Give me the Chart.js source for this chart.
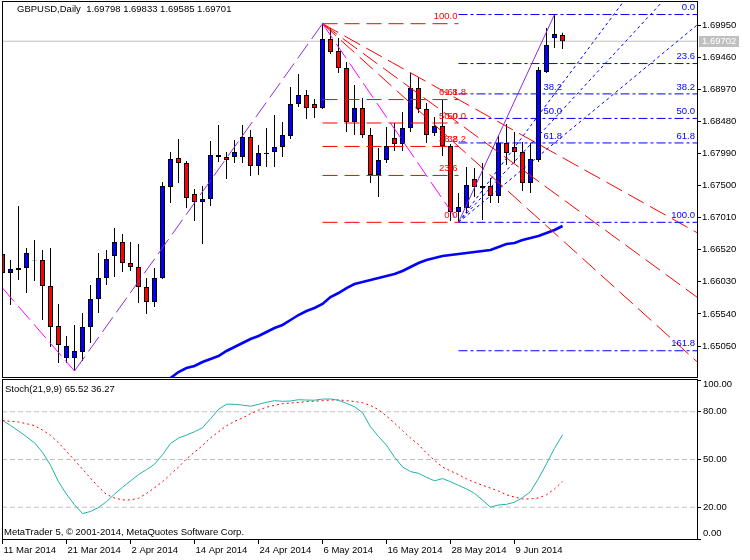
<!DOCTYPE html>
<html>
<head>
<meta charset="utf-8">
<script src="https://cdn.jsdelivr.net/npm/chart.js@4.4.1/dist/chart.umd.min.js"></script>
<style>
  body { margin: 0; background: #fff; }
  #wrap { position: relative; width: 750px; height: 560px; }
  #wrap canvas { position: absolute; left: 0; }
  #priceChart { top: 0; }
  #stochChart { top: 377px; }
</style>
</head>
<body>
<div id="wrap">
  <canvas id="priceChart" width="750" height="379"></canvas>
  <canvas id="stochChart" width="750" height="183"></canvas>
</div>
<script>
// GBPUSD daily bars, 11 Mar 2014 .. 17 Jun 2014
const opens = [1.66454, 1.66164, 1.66241, 1.66241, 1.66347, 1.66363, 1.65966, 1.65355, 1.64867, 1.64867,
  1.64958, 1.6534, 1.65767, 1.66088, 1.66424, 1.66638, 1.66317, 1.66256, 1.65951, 1.65722,
  1.66088, 1.67477, 1.6792, 1.67843, 1.6737, 1.67248, 1.67294, 1.67966, 1.67935, 1.67935,
  1.67935, 1.6824, 1.67798, 1.67996, 1.68011, 1.68088, 1.68256, 1.68744, 1.68881, 1.68744,
  1.68683, 1.69736, 1.69553, 1.69294, 1.68469, 1.68683, 1.68271, 1.6766, 1.67889, 1.68225,
  1.68133, 1.68378, 1.68988, 1.68668, 1.68301, 1.68408, 1.68103, 1.67095, 1.67157, 1.67599,
  1.67492, 1.67492, 1.6734, 1.68149, 1.68088, 1.68011, 1.67538, 1.67889, 1.69233, 1.69752, 1.69798];
const highs = [1.66515, 1.66363, 1.67187, 1.66546, 1.66668, 1.66515, 1.66546, 1.65691, 1.65203, 1.65371,
  1.65554, 1.65981, 1.6647, 1.66515, 1.66851, 1.6676, 1.66638, 1.66607, 1.66088, 1.66241,
  1.67553, 1.68011, 1.6821, 1.67874, 1.67447, 1.67492, 1.68179, 1.68424, 1.68011, 1.68195,
  1.68424, 1.68347, 1.68118, 1.68378, 1.68576, 1.68469, 1.69004, 1.69202, 1.68958, 1.6882,
  1.6997, 1.69904, 1.69752, 1.69385, 1.69034, 1.68836, 1.68378, 1.68072, 1.68393, 1.68454,
  1.68622, 1.69217, 1.69156, 1.68759, 1.68546, 1.68805, 1.68133, 1.67386, 1.67782, 1.67767,
  1.67843, 1.67614, 1.68256, 1.68439, 1.68317, 1.68164, 1.68149, 1.69309, 1.69904, 1.7011, 1.69833];
const lows = [1.66118, 1.65676, 1.66057, 1.65859, 1.66042, 1.65447, 1.65035, 1.6479, 1.6479, 1.64668,
  1.64821, 1.65096, 1.65554, 1.65981, 1.66103, 1.6618, 1.66195, 1.65706, 1.65538, 1.65645,
  1.66073, 1.67233, 1.67538, 1.67157, 1.66958, 1.66607, 1.67187, 1.67859, 1.67599, 1.67843,
  1.67843, 1.67645, 1.6766, 1.67782, 1.67782, 1.67935, 1.6821, 1.68698, 1.68515, 1.6853,
  1.68668, 1.69507, 1.69217, 1.68317, 1.68271, 1.68225, 1.67538, 1.67324, 1.67843, 1.68027,
  1.68027, 1.68317, 1.68607, 1.68149, 1.68256, 1.6795, 1.66958, 1.66938, 1.6708, 1.67324,
  1.66973, 1.67233, 1.67233, 1.67813, 1.67843, 1.67416, 1.67386, 1.67859, 1.69217, 1.69599, 1.69585];
const closes = [1.66164, 1.66225, 1.6621, 1.6647, 1.66355, 1.65966, 1.6534, 1.65065, 1.6505, 1.64974,
  1.6534, 1.65767, 1.66088, 1.66378, 1.66638, 1.66317, 1.66256, 1.65951, 1.65722, 1.66088,
  1.67492, 1.67904, 1.67843, 1.67309, 1.67248, 1.67294, 1.67966, 1.67935, 1.67889, 1.68011,
  1.6824, 1.67798, 1.67996, 1.67981, 1.68088, 1.68271, 1.68744, 1.68881, 1.68683, 1.68683,
  1.69736, 1.69538, 1.69294, 1.68469, 1.68683, 1.68271, 1.6766, 1.67889, 1.68103, 1.68133,
  1.68378, 1.68988, 1.68668, 1.68271, 1.68408, 1.68103, 1.67095, 1.67172, 1.67508, 1.67477,
  1.67462, 1.6734, 1.68149, 1.67996, 1.68011, 1.67538, 1.67904, 1.69263, 1.69645, 1.69813, 1.69701];
// moving average, below the window before 8 Apr
const ma = [null, null, null, null, null, null, null, null, null, null,
  null, null, null, null, null, null, null, null, null, null,
  1.64516, 1.64561, 1.64653, 1.64714, 1.64745, 1.64806, 1.64851, 1.64897, 1.64974, 1.65035,
  1.65096, 1.65157, 1.65203, 1.65264, 1.65325, 1.65371, 1.65447, 1.65523, 1.65584, 1.6563,
  1.65691, 1.65798, 1.65859, 1.65935, 1.65996, 1.66027, 1.66057, 1.66088, 1.66118, 1.66149,
  1.66195, 1.66256, 1.66317, 1.66363, 1.66393, 1.66424, 1.66439, 1.66454, 1.6647, 1.66485,
  1.665, 1.66515, 1.66561, 1.66607, 1.66622, 1.66668, 1.66699, 1.66729, 1.66775, 1.66821, 1.66882];
const stochK = [74.6, 71.4, 68, 64.3, 60.5, 54.5, 46.4, 36, 28.2, 21.5,
  16, 17.3, 19.8, 23.5, 28.2, 32.5, 36.5, 40.5, 43.6, 47,
  53, 60, 63.5, 65.4, 67.5, 70, 75.6, 81.5, 84.8, 84.7,
  84.2, 83.5, 84.7, 86, 87, 86.6, 86.8, 87.6, 87.4, 87.3,
  88, 88.1, 87.2, 85.3, 83.2, 79.5, 70.5, 64.5, 59, 51.5,
  45.3, 42.4, 41.3, 38.8, 36.6, 38, 36, 33.7, 31.5, 28.7,
  24.5, 20, 21.4, 21.8, 23.2, 26, 29.8, 38.1, 47.3, 57, 65.52];
const stochD = [74.6, 74, 73.6, 72.5, 71.3, 68.5, 65.2, 60.5, 55.2, 49.5,
  44, 38.2, 32.8, 28, 25.8, 24.6, 24.6, 25.6, 28.6, 32.2,
  36, 40.7, 45.2, 50.4, 54.6, 58.8, 63.6, 67.4, 71.2, 74,
  76.1, 78.8, 81, 82.9, 84, 85.1, 85.5, 85.9, 86.4, 86.7,
  87, 87.4, 87.5, 87, 86.5, 85.7, 84, 81.3, 77.3, 72.9,
  68.2, 63.5, 59.4, 54, 49.5, 45.3, 42.8, 40.5, 37.8, 35.6,
  33.9, 32, 30.2, 27.8, 26.4, 25.2, 25.2, 25.8, 27.8, 31.5, 36.27];

const dateTicks = [0, 8, 16, 24, 32, 40, 48, 56, 64];
const dateLabels = ['11 Mar 2014', '21 Mar 2014', '2 Apr 2014', '14 Apr 2014', '24 Apr 2014', '6 May 2014', '16 May 2014', '28 May 2014', '9 Jun 2014'];
const priceTicks = [1.6505, 1.6554, 1.6603, 1.6652, 1.6701, 1.675, 1.6799, 1.6848, 1.6897, 1.6946, 1.6995];
const stochTicks = [0, 20, 50, 80, 100];
const stochLevels = [20, 50, 80];
const bid = 1.69702;

// zigzag and fibonacci anchors (bar index)
const zigzagBars = [0, 9, 40, 57, 69];
const zigzagPrices = [1.65935, 1.64668, 1.6997, 1.66938, 1.7011];
const peakBar = 40, troughBar = 57, topBar = 69;
const redFib = [0, 23.6, 38.2, 50, 61.8, 100];
const blueFib = [0, 23.6, 38.2, 50, 61.8, 100, 161.8];
const fanLevels = [38.2, 50, 61.8];

const fontFamily = '"Liberation Sans", Arial, sans-serif';
const fontSize = 9.5;
const fontCss = fontSize + 'px ' + fontFamily;
Chart.defaults.font.family = fontFamily;
Chart.defaults.font.size = fontSize;
Chart.defaults.color = '#000';

const xMin = -0.0625, xMax = 86.8125;
const bars = closes.map((_, i) => i);
const redHigh = highs[peakBar], redLow = lows[troughBar];
const blueHigh = highs[topBar], blueLow = lows[troughBar];
const redLevel = r => redLow + r / 100 * (redHigh - redLow);
const blueLevel = r => blueHigh - r / 100 * (blueHigh - blueLow);

function seg(x0, y0, x1, y1, color, dash, order) {
    return { type: 'line', data: [{ x: x0, y: y0 }, { x: x1, y: y1 }], borderColor: color, borderWidth: 1, borderDash: dash, pointRadius: 0, order };
}

const frame = {
    id: 'frame',
    afterDraw(chart) {
        const { ctx, chartArea: a } = chart;
        ctx.save();
        ctx.strokeStyle = '#000';
        ctx.lineWidth = 1;
        ctx.strokeRect(a.left + 0.5, a.top - 0.5, a.right - a.left, a.bottom - a.top + 1);
        ctx.restore();
    }
};

// price window
const priceSets = [
    { label: 'body', data: bars.map(i => ({ x: i, y: [opens[i], closes[i]] })),
      backgroundColor: bars.map(i => closes[i] >= opens[i] ? '#0000ff' : '#ff0000'),
      borderColor: '#000', borderWidth: 1, borderSkipped: false, barThickness: 5, grouped: false, inflateAmount: 0, order: 10 },
    { label: 'wick', data: bars.map(i => ({ x: i, y: [lows[i], highs[i]] })),
      backgroundColor: '#000', borderWidth: 0, barThickness: 1, grouped: false, inflateAmount: 0, order: 11 },
    { type: 'line', label: 'MA', data: bars.map(i => ({ x: i, y: ma[i] })), borderColor: '#0000ff', borderWidth: 2.6, pointRadius: 0, order: 5 },
    seg(xMin, bid, xMax, bid, '#c0c0c0', [], 12)
];
redFib.forEach(r => priceSets.push(seg(peakBar, redLevel(r), troughBar, redLevel(r), '#ff0000', [15, 7], 3)));
blueFib.forEach(r => priceSets.push(seg(troughBar, blueLevel(r), xMax, blueLevel(r), '#0000ff', [9, 3, 3, 3], 3)));
fanLevels.forEach(r => {
    const redEnd = redHigh + (redLevel(r) - redHigh) * (xMax - peakBar) / (troughBar - peakBar);
    const blueEnd = blueLow + (blueLevel(r) - blueLow) * (xMax - troughBar) / (topBar - troughBar);
    priceSets.push(seg(peakBar, redHigh, xMax, redEnd, '#ff0000', [18, 7], 4));
    priceSets.push(seg(troughBar, blueLow, xMax, blueEnd, '#0000ff', [3, 3], 4));
});
for (let k = 0; k < zigzagBars.length - 1; k++) {
    const up = zigzagPrices[k + 1] > zigzagPrices[k];
    const last = k === zigzagBars.length - 2;
    priceSets.push(seg(zigzagBars[k], zigzagPrices[k], zigzagBars[k + 1], zigzagPrices[k + 1], up ? '#8a2be2' : '#ff00ff', last ? [] : [18, 6], 2));
}

const priceText = {
    id: 'priceText',
    afterDraw(chart) {
        const { ctx, chartArea: a, scales: { x, y } } = chart;
        const n = closes.length - 1;
        ctx.save();
        ctx.font = fontCss;
        ctx.textBaseline = 'middle';
        ctx.textAlign = 'left';
        ctx.fillStyle = '#000';
        ctx.fillText('GBPUSD,Daily  ' + [opens[n], highs[n], lows[n], closes[n]].map(v => v.toFixed(5)).join(' '), 17, 9);

        // fibo labels
        ctx.fillStyle = '#ff0000';
        ctx.textAlign = 'right';
        redFib.forEach(r => ctx.fillText(r.toFixed(1), x.getPixelForValue(troughBar) - 1, y.getPixelForValue(redLevel(r)) - 7));
        ctx.textAlign = 'left';
        fanLevels.forEach(r => ctx.fillText(r.toFixed(1), x.getPixelForValue(troughBar) - 11, y.getPixelForValue(redLevel(r)) - 7));
        ctx.fillStyle = '#0000ff';
        fanLevels.forEach(r => ctx.fillText(r.toFixed(1), x.getPixelForValue(topBar) - 11, y.getPixelForValue(blueLevel(r)) - 7));
        ctx.textAlign = 'right';
        blueFib.forEach(r => ctx.fillText(r.toFixed(1), a.right - 2, y.getPixelForValue(blueLevel(r)) - 7));

        // bid label
        const by = Math.round(y.getPixelForValue(bid));
        ctx.fillStyle = '#c0c0c0';
        ctx.fillRect(a.right + 2, by - 5, 40, 11);
        ctx.fillStyle = '#fff';
        ctx.textAlign = 'left';
        ctx.fillText(bid.toFixed(5), a.right + 5, by + 0.5);
        ctx.restore();
    }
};

new Chart(document.getElementById('priceChart'), {
    type: 'bar',
    data: { datasets: priceSets },
    options: {
        responsive: false,
        animation: false,
        devicePixelRatio: 1,
        layout: { padding: { left: 2, top: 2, right: 0, bottom: 2 } },
        plugins: { legend: { display: false }, tooltip: { enabled: false } },
        scales: {
            x: { type: 'linear', min: xMin, max: xMax, display: false, offset: false, grid: { offset: false } },
            y: {
                position: 'right',
                min: 1.645768,
                max: 1.703011,
                border: { display: false },
                grid: { drawOnChartArea: false, tickLength: 4, color: '#000' },
                ticks: { padding: 1, color: '#000', callback: v => v.toFixed(5) },
                afterBuildTicks: s => { s.ticks = priceTicks.map(v => ({ value: v })); },
                afterFit: s => { s.width = 53; s.paddingTop = 0; s.paddingBottom = 0; }
            }
        }
    },
    plugins: [frame, priceText]
});

// stochastic window
const stochSets = [
    { label: 'K', data: bars.map(i => ({ x: i, y: stochK[i] })), borderColor: '#20b2aa', borderWidth: 1, pointRadius: 0, order: 1 },
    { label: 'D', data: bars.map(i => ({ x: i, y: stochD[i] })), borderColor: '#ff0000', borderWidth: 1, borderDash: [2, 3], pointRadius: 0, order: 2 }
];
stochLevels.forEach(v => stochSets.push(seg(xMin, v, xMax, v, '#c0c0c0', [5, 3], 5)));

const stochText = {
    id: 'stochText',
    afterDraw(chart) {
        const { ctx, chartArea: a, scales: { y } } = chart;
        const n = stochK.length - 1;
        ctx.save();
        ctx.font = fontCss;
        ctx.textBaseline = 'middle';
        ctx.fillStyle = '#000';
        ctx.textAlign = 'left';
        ctx.fillText('Stoch(21,9,9) ' + stochK[n].toFixed(2) + ' ' + stochD[n].toFixed(2), 5, a.top + 9);
        ctx.fillText('MetaTrader 5, \u00a9 2001-2014, MetaQuotes Software Corp.', 4, a.bottom - 7);
        stochTicks.forEach(v => {
            const yy = Math.min(Math.max(y.getPixelForValue(v), a.top + 4), a.bottom - 6);
            ctx.fillText(v.toFixed(2), a.right + 6, yy);
        });
        ctx.restore();
    }
};

new Chart(document.getElementById('stochChart'), {
    type: 'line',
    data: { datasets: stochSets },
    options: {
        responsive: false,
        animation: false,
        devicePixelRatio: 1,
        layout: { padding: { left: 2, top: 3, right: 0, bottom: 0 } },
        plugins: { legend: { display: false }, tooltip: { enabled: false } },
        scales: {
            x: {
                type: 'linear', min: xMin, max: xMax,
                border: { display: false },
                grid: { drawOnChartArea: false, tickLength: 5, color: '#000' },
                ticks: { autoSkip: false, maxRotation: 0, align: 'start', labelOffset: 1, padding: 1, color: '#000',
                    callback: v => { const k = dateTicks.indexOf(v); return k < 0 ? '' : dateLabels[k]; } },
                afterBuildTicks: s => { s.ticks = dateTicks.map(v => ({ value: v })); },
                afterFit: s => { s.height = 21; s.paddingLeft = 0; s.paddingRight = 0; }
            },
            y: {
                position: 'right', min: 0, max: 100,
                border: { display: false },
                grid: { drawOnChartArea: false, tickLength: 4, color: '#000' },
                ticks: { callback: () => '' },
                afterBuildTicks: s => { s.ticks = stochTicks.map(v => ({ value: v })); },
                afterFit: s => { s.width = 53; s.paddingTop = 0; s.paddingBottom = 0; }
            }
        }
    },
    plugins: [frame, stochText]
});
</script>
</body>
</html>
